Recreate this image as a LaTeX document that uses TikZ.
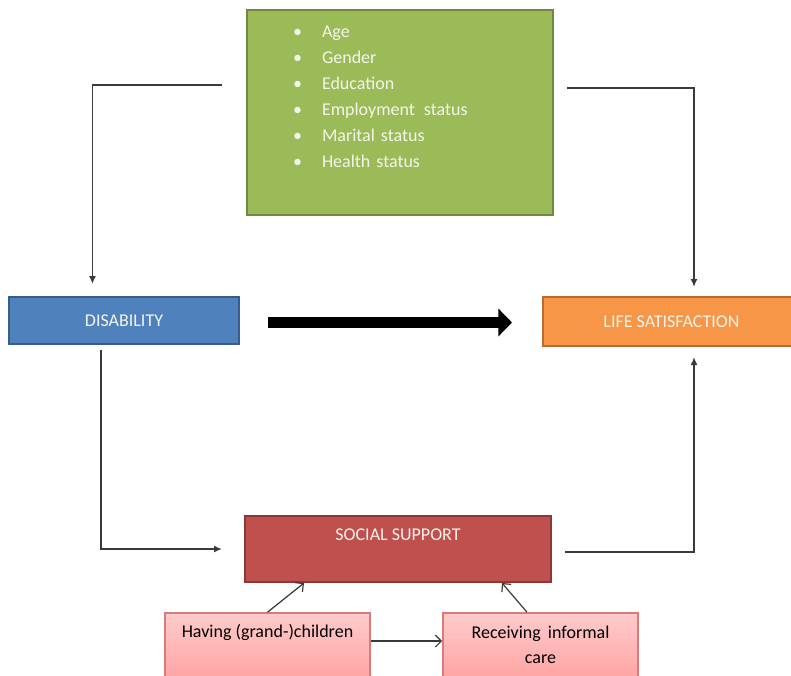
\documentclass[tikz,border=0pt]{standalone}
\usepackage{fontspec}
\setmainfont{Carlito}
\usetikzlibrary{arrows.meta}
\definecolor{grnfill}{HTML}{9BBB59}
\definecolor{grnline}{HTML}{71893F}
\definecolor{blufill}{HTML}{4F81BD}
\definecolor{bluline}{HTML}{385D8A}
\definecolor{orafill}{HTML}{F79646}
\definecolor{oraline}{HTML}{B66D31}
\definecolor{redfill}{HTML}{C0504D}
\definecolor{redline}{HTML}{8C3836}
\definecolor{pinktop}{HTML}{FFCBCB}
\definecolor{pinkbot}{HTML}{FFA3A3}
\definecolor{pinkline}{HTML}{D97B7B}
\definecolor{paletext}{HTML}{F4F4EC}
\definecolor{darkline}{HTML}{3A3A3A}
\begin{document}
\begin{tikzpicture}[x=0.5pt, y=-0.5pt,
  box/.style={rectangle, line width=1pt, font=\fontsize{9}{13}\selectfont, text=paletext},
  pinkbox/.style={rectangle, draw=pinkline, line width=0.8pt, top color=pinktop, bottom color=pinkbot, inner sep=0pt, align=center, font=\fontsize{9}{12.5}\selectfont},
  arr/.style={draw=darkline, line width=0.8pt, -{Latex[length=4pt,width=3.5pt]}},
  arrsmall/.style={draw=darkline, line width=0.6pt, -{Straight Barb[length=3pt,width=6pt]}},
  bigarr/.style={line width=5.5pt, -{Triangle[length=6.8pt,width=13.5pt]}}]
\useasboundingbox (0,0) rectangle (791,675);
\node[box, fill=grnfill, draw=grnline, inner xsep=23pt, inner ysep=0pt, text width=107pt, text height=13.5pt, text depth=89pt, align=left] (fac) at (400,112.5) {\makebox[14.5pt][l]{\textbullet}Age\\\makebox[14.5pt][l]{\textbullet}Gender\\\makebox[14.5pt][l]{\textbullet}Education\\\makebox[14.5pt][l]{\textbullet}Employment\hspace{1.5pt} status\\\makebox[14.5pt][l]{\textbullet}Marital status\\\makebox[14.5pt][l]{\textbullet}Health status};
\node[box, fill=blufill, draw=bluline, minimum width=115pt, minimum height=23.5pt] (dis) at (124,320.5) {DISABILITY};
\node[box, fill=orafill, draw=oraline, minimum width=128.5pt, minimum height=24.5pt] (lif) at (671.5,321.5) {LIFE SATISFACTION};
\node[box, fill=redfill, draw=redline, minimum width=153pt, inner sep=0pt, text height=12pt, text depth=21pt] (soc) at (398,549) {SOCIAL SUPPORT};
\node[pinkbox, minimum width=102.5pt, text height=12pt, text depth=21.5pt] (chi) at (267.5,646.5) {Having (grand-)children};
\node[pinkbox, minimum width=97.5pt, text height=25pt, text depth=8.5pt] (car) at (540.5,646.5) {Receiving\hspace{1.5pt} informal\\care};
\draw[bigarr] ([xshift=14pt,yshift=-1pt]dis.east) -- ([xshift=-15pt,yshift=-1pt]dis.east -| lif.west);
\coordinate (a1) at (222,85);
\coordinate (a2) at (92.5,284);
\draw[arr] (a1) -| (a2);
\coordinate (b1) at (567,88);
\coordinate (b2) at (694,287);
\draw[arr] (b1) -| (b2);
\coordinate (c1) at (101,350);
\coordinate (c2) at (222,549);
\draw[arr] (c1) |- (c2);
\coordinate (d1) at (565,552);
\coordinate (d2) at (694,357);
\draw[arr] (d1) -| (d2);
\draw[arrsmall] (chi.north) -- ([xshift=-47pt]soc.south);
\draw[arrsmall] ([xshift=-6.75pt]car.north) -- ([xshift=52pt]soc.south);
\draw[arrsmall] ([yshift=2.75pt]chi.east) -- ([yshift=2.75pt]chi.east -| car.west);
\end{tikzpicture}
\end{document}
